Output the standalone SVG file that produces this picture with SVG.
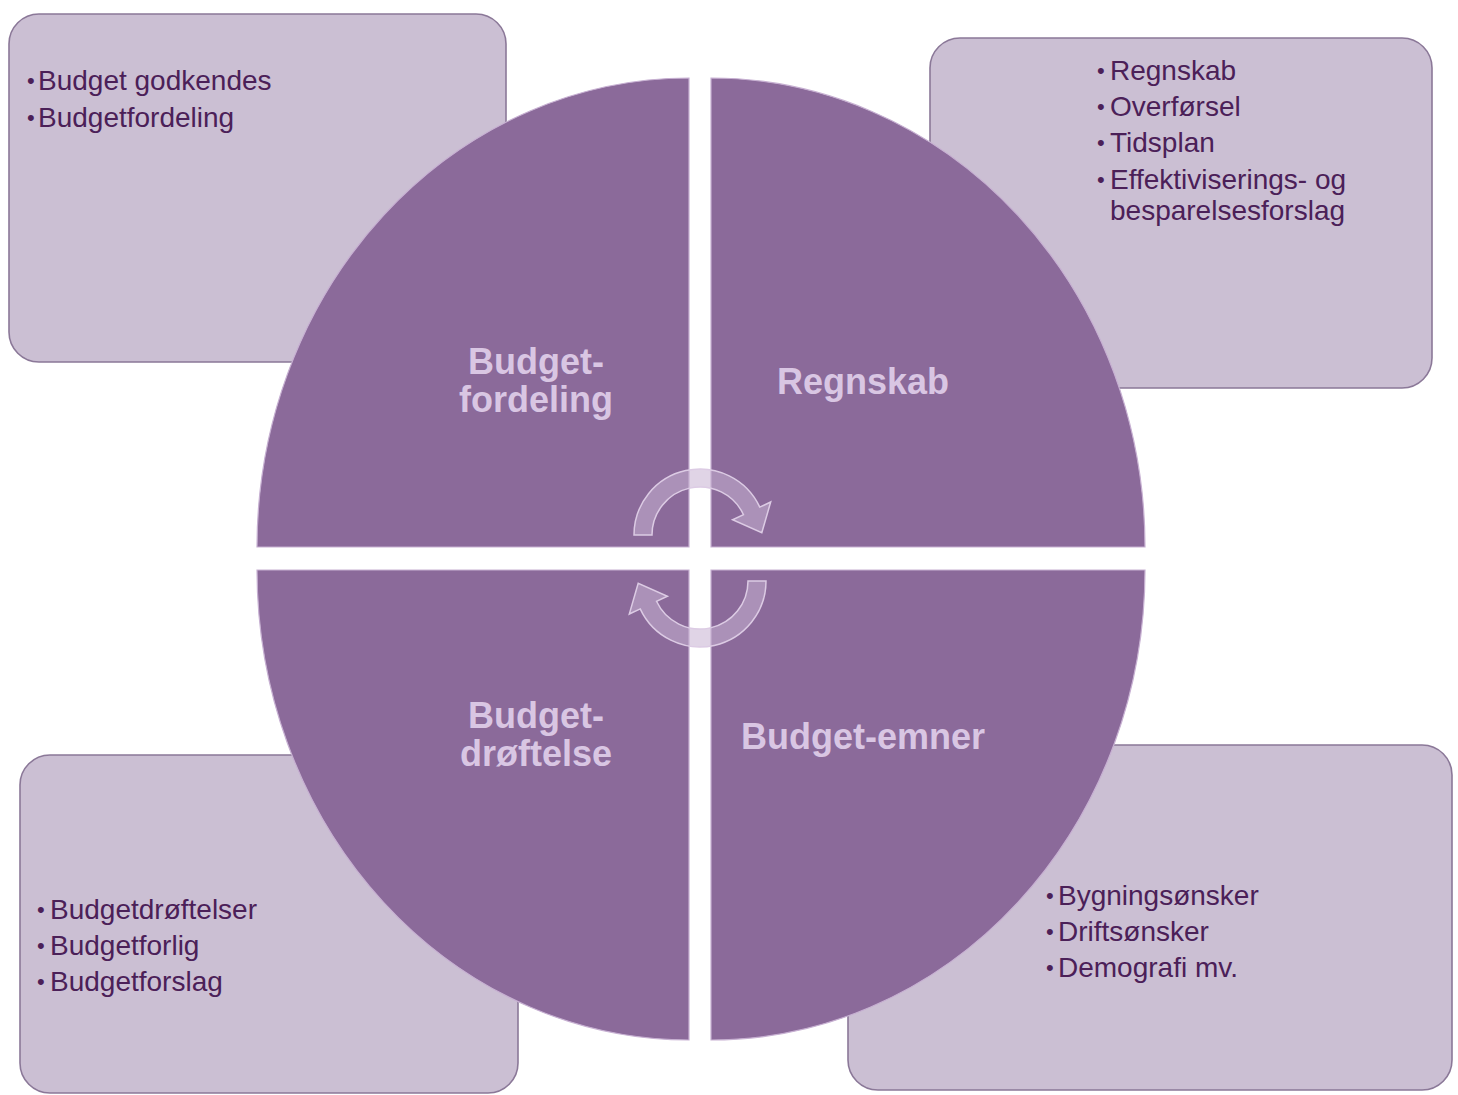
<svg xmlns="http://www.w3.org/2000/svg" width="1458" height="1095" viewBox="0 0 1458 1095">
<style>
.box{fill:#CBBFD3;stroke:#8B7898;stroke-width:1.6}
.q{fill:#8B6A9A;stroke:#C7B0D2;stroke-width:1.2}
.lbl{font-family:"Liberation Sans",Arial,sans-serif;font-weight:bold;font-size:36px;fill:#D9C6E3;text-anchor:middle}
.it{font-family:"Liberation Sans",Arial,sans-serif;font-size:28px;fill:#4B2058}
.bul{font-size:22px}
.arr{fill:#C6B0D1;fill-opacity:0.55;stroke:#DCCBE4;stroke-width:1.5}
</style>
<defs>
<path id="arrow" d="M634,535 A66,66 0 0 1 759.8,507.1 L770.7,502 L761.8,532.6 L732.6,519.8 L743.5,514.7 A48,48 0 0 0 652,535 Z"/>
</defs>
<rect width="1458" height="1095" fill="#FFFFFF"/>
<g id="box-tl"><rect class="box" x="9" y="14" width="497" height="348" rx="30"/>
<text class="it"><tspan class="bul" x="27" y="88">•</tspan><tspan x="38" y="90">Budget godkendes</tspan><tspan class="bul" x="27" y="125">•</tspan><tspan x="38" y="127">Budgetfordeling</tspan></text></g>
<g id="box-tr"><rect class="box" x="930" y="38" width="502" height="350" rx="30"/>
<text class="it"><tspan class="bul" x="1097" y="78">•</tspan><tspan x="1110" y="80">Regnskab</tspan><tspan class="bul" x="1097" y="114">•</tspan><tspan x="1110" y="116">Overførsel</tspan><tspan class="bul" x="1097" y="150">•</tspan><tspan x="1110" y="152">Tidsplan</tspan><tspan class="bul" x="1097" y="187">•</tspan><tspan x="1110" y="189">Effektiviserings- og</tspan><tspan x="1110" y="220">besparelsesforslag</tspan></text></g>
<g id="box-bl"><rect class="box" x="20" y="755" width="498" height="338" rx="30"/>
<text class="it"><tspan class="bul" x="37" y="917">•</tspan><tspan x="50" y="919">Budgetdrøftelser</tspan><tspan class="bul" x="37" y="953">•</tspan><tspan x="50" y="955">Budgetforlig</tspan><tspan class="bul" x="37" y="989">•</tspan><tspan x="50" y="991">Budgetforslag</tspan></text></g>
<g id="box-br"><rect class="box" x="848" y="745" width="604" height="345" rx="30"/>
<text class="it"><tspan class="bul" x="1046" y="903">•</tspan><tspan x="1058" y="905">Bygningsønsker</tspan><tspan class="bul" x="1046" y="939">•</tspan><tspan x="1058" y="941">Driftsønsker</tspan><tspan class="bul" x="1046" y="975">•</tspan><tspan x="1058" y="977">Demografi mv.</tspan></text></g>
<g id="q-budgetfordeling"><path class="q" d="M689,547 L257,547 A432,469 0 0 1 689,78 Z"/>
<text class="lbl"><tspan x="536" y="374">Budget-</tspan><tspan x="536" y="412">fordeling</tspan></text></g>
<g id="q-regnskab"><path class="q" d="M711,547 L711,78 A434,469 0 0 1 1145,547 Z"/>
<text class="lbl" x="863" y="394">Regnskab</text></g>
<g id="q-budgetdroftelse"><path class="q" d="M689,570 L689,1040 A432,470 0 0 1 257,570 Z"/>
<text class="lbl"><tspan x="536" y="728">Budget-</tspan><tspan x="536" y="766">drøftelse</tspan></text></g>
<g id="q-budgetemner"><path class="q" d="M711,570 L1145,570 A434,470 0 0 1 711,1040 Z"/>
<text class="lbl" x="863" y="749">Budget-emner</text></g>
<g id="connectors">
<use href="#arrow" class="arr"/>
<use href="#arrow" class="arr" transform="rotate(180 700 558)"/>
</g>
</svg>
